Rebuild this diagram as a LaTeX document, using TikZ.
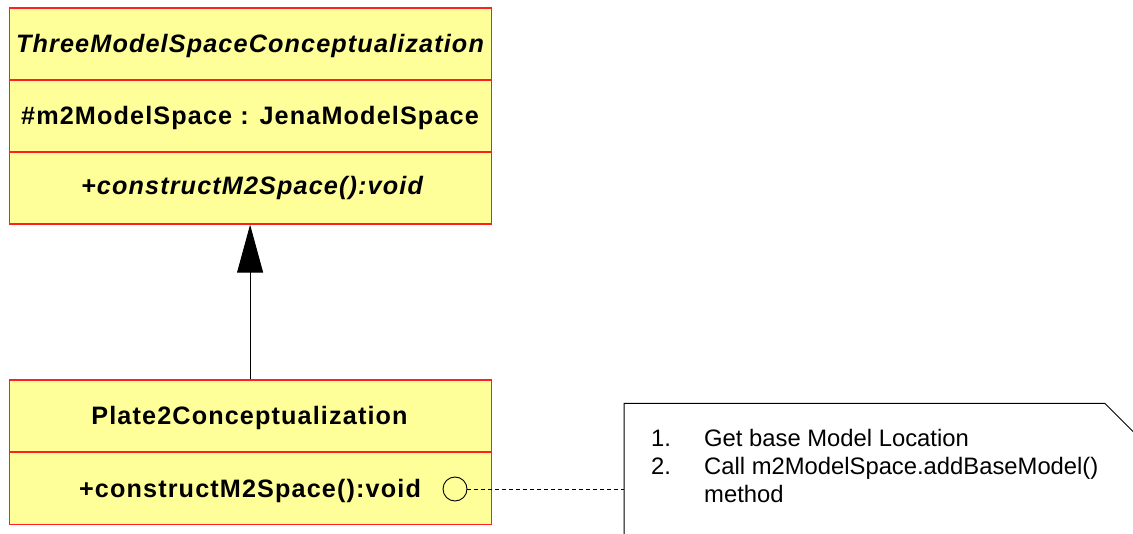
\documentclass[tikz,border=0pt]{standalone}
\usepackage{fontspec}
\setmainfont{Liberation Sans}
\newfontfamily\clsfont{Liberation Sans}[LetterSpace=4.5]
\usetikzlibrary{arrows.meta}
\definecolor{clsfill}{HTML}{FFFF99}
\definecolor{clsline}{HTML}{FF2020}
\begin{document}
\begin{tikzpicture}[x=1pt,y=-1pt,
  comp/.style={draw=clsline, fill=clsfill, line width=1.2pt, minimum width=482pt,
    minimum height=72pt, inner sep=0pt, anchor=north west},
  clstext/.style={anchor=base, inner sep=0pt, font=\clsfont\fontsize{25.2}{28}\selectfont\bfseries},
  notetext/.style={anchor=base west, inner sep=0pt, font=\fontsize{23.8}{28}\selectfont},
  gen/.style={line width=1pt, -{Triangle[width=26pt,length=48pt]}},
  dep/.style={line width=0.8pt, dash pattern=on 4pt off 3pt}]
\useasboundingbox (0,0) rectangle (1133,534);
% top class
\node[comp] (a1) at (8.5,7.5) {};
\node[comp] (a2) at (8.5,79.5) {};
\node[comp] (a3) at (8.5,151.5) {};
\node[clstext] (aname) at (250,53) {\itshape ThreeModelSpaceConceptualization};
\node[clstext] (aattr) at (250,125) {\#m2ModelSpace : JenaModelSpace};
\node[clstext] (aop) at (252,195) {\itshape +constructM2Space():void};
% bottom class
\node[comp] (b1) at (8.5,379.5) {};
\node[comp] (b2) at (8.5,451.5) {};
\node[clstext] (bname) at (249.5,425) {Plate2Conceptualization};
\node[clstext] (bop) at (250,497) {+constructM2Space():void};
% generalization
\draw[gen] (b1.north) -- (a3.south);
% note
\coordinate (nbl) at (624,540);
\coordinate (ntl) at (624,403.5);
\coordinate (nfold) at (1105,403.5);
\coordinate (nfe) at (1140,438.5);
\draw[line width=1pt] (nbl) -- (ntl) -- (nfold) -- (nfe);
\coordinate (nin) at (624,489);
\node[notetext] (n1) at (651,447) {1.};
\node[notetext] (t1) at (704,447) {Get base Model Location};
\node[notetext] (n2) at (651,474.5) {2.};
\node[notetext] (t2) at (704,474.5) {Call m2ModelSpace.addBaseModel()};
\node[notetext] (t3) at (704,502) {method};
% attachment circle and dashed line
\node[draw, circle, line width=0.9pt, minimum size=24pt, inner sep=0pt] (c) at (455,489) {};
\draw[dep] (c.east) -- (nin);
\end{tikzpicture}
\end{document}
